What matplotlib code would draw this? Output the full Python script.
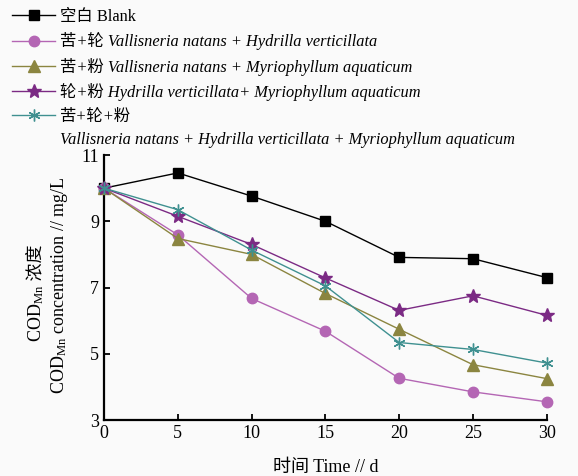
import matplotlib
matplotlib.use("Agg")
import matplotlib.pyplot as plt
from matplotlib.lines import Line2D

plt.rcParams['font.family'] = ['Liberation Serif', 'Noto Sans CJK SC', 'DejaVu Sans']
plt.rcParams['mathtext.fontset'] = 'custom'
plt.rcParams['mathtext.rm'] = 'Liberation Serif'
plt.rcParams['mathtext.it'] = 'Liberation Serif:italic'

# -----------------------------
# Data
# -----------------------------
days = [0, 5, 10, 15, 20, 25, 30]
blank = [10.0, 10.46, 9.76, 9.0, 7.91, 7.87, 7.30]
vn_hv = [10.0, 8.59, 6.67, 5.68, 4.26, 3.85, 3.55]
vn_ma = [10.0, 8.48, 8.0, 6.82, 5.74, 4.67, 4.25]
hv_ma = [10.0, 9.15, 8.30, 7.29, 6.31, 6.75, 6.16]
all3 = [10.0, 9.35, 8.13, 7.05, 5.34, 5.13, 4.72]

labels = [
    "空白 Blank",
    "苦+轮 Vallisneria natans + Hydrilla verticillata",
    "苦+粉 Vallisneria natans + Myriophyllum aquaticum",
    "轮+粉 Hydrilla verticillata+ Myriophyllum aquaticum",
    "苦+轮+粉",
]
extra_label = "Vallisneria natans + Hydrilla verticillata + Myriophyllum aquaticum"

# -----------------------------
# Plot
# -----------------------------
fig = plt.figure(figsize=(5.78, 4.76), dpi=100, facecolor="#fafafa")
ax = fig.add_axes([0.18, 0.1176, 0.766, 0.5567])
ax.set_facecolor("#fafafa")

styles = [
    (blank, "black", "s", 7),
    (vn_hv, "#b466b4", "o", 7.5),
    (vn_ma, "#8b8540", "^", 8.5),
    (hv_ma, "#7b2a84", "*", 10.5),
    (all3, "#3f9090", (6, 2, 0), 8.5),
]
handles = []
for (vals, c, m, ms), lab in zip(styles, labels):
    h, = ax.plot(days, vals, color=c, lw=1.0, marker=m, markersize=ms,
                 markerfacecolor=c, markeredgecolor=c, clip_on=False,
                 zorder=3, label=lab)
    handles.append(h)

handles.append(Line2D([], [], alpha=0))
labels_all = labels + [extra_label]

leg = fig.legend(handles, labels_all, loc="upper left",
                 bbox_to_anchor=(12 / 578, 1 - 9 / 476), bbox_transform=fig.transFigure,
                 frameon=False, fontsize=11.8, handlelength=2.65, handletextpad=0.3,
                 labelspacing=0.45, borderpad=0, borderaxespad=0)
for t in leg.get_texts()[1:]:
    t.set_fontstyle("italic")

# -----------------------------
# Formatting
# -----------------------------
ax.set_xlim(0, 30)
ax.set_ylim(3, 11)
ax.set_xticks(days)
ax.set_yticks([3, 5, 7, 9, 11])
for s in ["top", "right"]:
    ax.spines[s].set_visible(False)
for s in ["left", "bottom"]:
    ax.spines[s].set_linewidth(1.6)
ax.tick_params(direction="in", length=4, width=1.3, labelsize=13)

ax.set_xlabel("时间 Time // d", fontsize=13, labelpad=12)

# y label: two rotated lines
t1 = fig.text(36 / 578, 1 - 342 / 476, "COD$_{\\rm Mn}$", rotation=90,
              ha="center", va="bottom", fontsize=13)
ax.annotate(" 浓度", xy=(0.5, 1), xycoords=t1, rotation=90,
            ha="center", va="bottom", fontsize=13)
fig.text(60 / 578, 1 - 285 / 476, "COD$_{\\rm Mn}$ concentration // mg/L",
         rotation=90, ha="center", va="center", fontsize=13)

plt.savefig("out.png", dpi=100, facecolor=fig.get_facecolor())
